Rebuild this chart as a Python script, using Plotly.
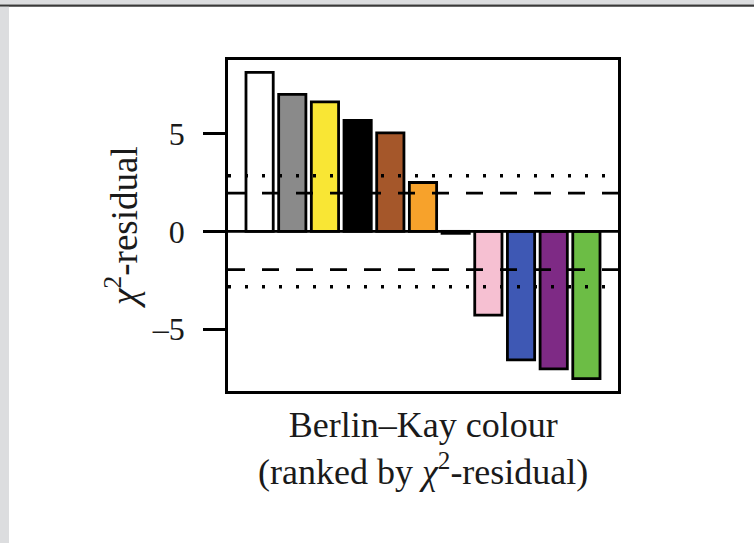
import plotly.graph_objects as go

categories = ["white", "grey", "yellow", "black", "brown", "orange",
              "red", "pink", "blue", "purple", "green"]
residuals = [8.14, 7.01, 6.63, 5.68, 5.04, 2.50, -0.10, -4.29, -6.58, -7.04, -7.54]
bar_colors = ["#ffffff", "#8a8a8a", "#f9e634", "#000000", "#a5572a", "#f7a22b",
              "#e0302a", "#f6c0d2", "#3e58b4", "#7e2a85", "#6cbd45"]
y_ticks = [-5, 0, 5]
crit_dashed = 1.96
crit_dotted = 2.84

W, H = 754, 543
L, R, T, B = 228, 618, 60, 391

fig = go.Figure()
fig.add_trace(go.Bar(
    x=categories, y=residuals,
    marker=dict(color=bar_colors, line=dict(color="black", width=2.8)),
    showlegend=False, hoverinfo="x+y",
))

font = "Liberation Serif, Times New Roman, serif"

# reference lines
for val, dash, w in [(crit_dashed, "17px,17px", 2.8), (-crit_dashed, "17px,17px", 2.8),
                     (crit_dotted, "3px,14px", 3.5), (-crit_dotted, "3px,14px", 3.5)]:
    fig.add_shape(type="line", xref="paper", yref="y", x0=0, x1=1, y0=val, y1=val,
                  line=dict(color="black", width=w, dash=dash), layer="above")
fig.add_shape(type="line", xref="paper", yref="y", x0=0, x1=1, y0=0, y1=0,
              line=dict(color="black", width=2.8), layer="above")

# outer gray frame (page decoration)
def px(xp):
    return (xp - L) / (R - L)

def py(yp):
    return (B - yp) / (B - T)

frame_gray = "#dcdddf"
fig.add_shape(type="rect", xref="paper", yref="paper", x0=px(0), x1=px(W),
              y0=py(4.5), y1=py(0), fillcolor=frame_gray, line=dict(width=0), layer="below")
fig.add_shape(type="rect", xref="paper", yref="paper", x0=px(0), x1=px(W),
              y0=py(6.7), y1=py(4.5), fillcolor="#3a3a3a", line=dict(width=0), layer="below")
fig.add_shape(type="rect", xref="paper", yref="paper", x0=px(0), x1=px(9),
              y0=py(H), y1=py(6.7), fillcolor=frame_gray, line=dict(width=0), layer="below")

# axis titles
fig.add_annotation(text="Berlin–Kay colour<br>(ranked by <i>χ</i><sup>2</sup>-residual)",
                   xref="paper", yref="paper", x=0.5, y=py(403), xanchor="center", yanchor="top",
                   showarrow=False, font=dict(family=font, size=36, color="#1a1a1a"))
fig.add_annotation(text="<i>χ</i><sup>2</sup>-residual",
                   xref="paper", yref="paper", x=px(121), y=py(227), xanchor="center", yanchor="middle",
                   textangle=-90, showarrow=False, font=dict(family=font, size=37, color="#1a1a1a"))

fig.update_layout(
    width=W, height=H, autosize=False,
    margin=dict(l=L, r=W - R, t=T, b=H - B, pad=0),
    paper_bgcolor="white", plot_bgcolor="white",
    bargap=0.1667,
    xaxis=dict(range=[-0.967, 10.967], showticklabels=False, ticks="",
               showline=True, linecolor="black", linewidth=2.8, mirror=True,
               showgrid=False, zeroline=False),
    yaxis=dict(range=[-8.17, 8.77], tickvals=y_ticks, ticktext=["–5", "0", "5"],
               ticks="outside", ticklen=22, tickwidth=2.8, tickcolor="black",
               ticklabelstandoff=12,
               tickfont=dict(family=font, size=32, color="#1a1a1a"),
               showline=True, linecolor="black", linewidth=2.8, mirror=True,
               showgrid=False, zeroline=False),
)

fig.write_html("out.html", config={"displayModeBar": False},
               post_script="document.body.style.margin='0';document.body.style.overflow='hidden';")
